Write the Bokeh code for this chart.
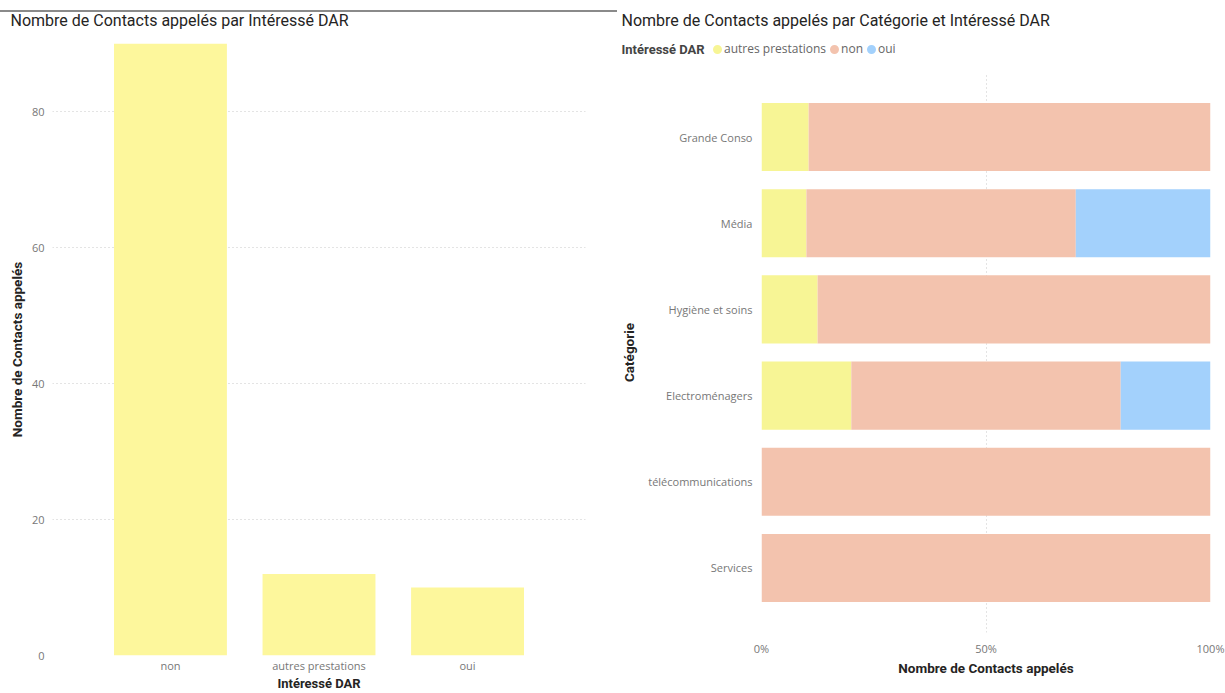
from bokeh.plotting import figure
from bokeh.models import (FactorRange, Range1d, Legend, LegendItem, Label,
                          FixedTicker, PrintfTickFormatter, ColumnDataSource)
from bokeh.embed import file_html
from bokeh.resources import INLINE

# ---- data ----
dar_categories = ["non", "autres prestations", "oui"]
dar_counts = [90, 12, 10]

categories = ["Grande Conso", "Média", "Hygiène et soins", "Electroménagers",
              "télécommunications", "Services"]
series = ["autres prestations", "non", "oui"]
share_autres = [10.5, 10, 12.5, 20, 0, 0]
share_non = [89.5, 60, 87.5, 60, 100, 100]
share_oui = [0, 30, 0, 20, 0, 0]
left_ticks = [0, 20, 40, 60, 80]
pct_ticks = [0, 50, 100]

YELLOW_L = "#FDF79C"
COLORS = ["#F7F595", "#F3C3AE", "#A3D1FC"]
TITLE_FONT = "Roboto"
LABEL_FONT = "Open Sans"
DARK = "#252423"
TICK_COL = "#777777"
GRID_COL = "#C8C8C8"


def style_axis(ax, label_size="13.5px"):
    ax.axis_line_color = None
    ax.major_tick_line_color = None
    ax.minor_tick_line_color = None
    ax.major_tick_out = 0
    ax.major_tick_in = 0
    ax.minor_tick_out = 0
    ax.minor_tick_in = 0
    ax.major_label_text_color = TICK_COL
    ax.major_label_text_font = LABEL_FONT
    ax.major_label_text_font_size = "11px"
    ax.axis_label_text_font = TITLE_FONT
    ax.axis_label_text_font_style = "bold"
    ax.axis_label_text_font_size = label_size
    ax.axis_label_text_color = DARK


# ---- left chart (placed 12px down, with a grey top rule) ----
TOP1 = 12
W1, H1 = 617, 693 - TOP1
L1, R1, T1, B1 = 52, 32, 43 - TOP1, 36
p1 = figure(x_range=FactorRange(*dar_categories, range_padding=0.196),
            y_range=Range1d(0, 90), width=W1, height=H1,
            output_backend="svg", toolbar_location=None,
            min_border_left=L1, min_border_right=R1,
            min_border_top=T1, min_border_bottom=B1)
p1.styles = {"position": "absolute", "left": "0px", "top": f"{TOP1 - 2}px",
             "border-top": "2px solid #8A8A8A"}
p1.vbar(x=dar_categories, top=dar_counts, width=0.76, color=YELLOW_L, line_color=None)
p1.outline_line_color = None
p1.xgrid.grid_line_color = None
p1.ygrid.grid_line_color = GRID_COL
p1.ygrid.grid_line_dash = "1 3"
p1.yaxis.ticker = FixedTicker(ticks=left_ticks)
style_axis(p1.xaxis[0], "13px")
style_axis(p1.yaxis[0])
p1.xaxis.axis_label = "Intéressé DAR"
p1.yaxis.axis_label = "Nombre de Contacts appelés"
p1.xaxis.major_label_standoff = 2
p1.xaxis.axis_label_standoff = 0
p1.yaxis.major_label_standoff = 8
p1.yaxis.axis_label_standoff = 4

# ---- right chart ----
W2, H2 = 608, 693
L2, R2, T2, B2 = 144, 15, 72, 61
src = ColumnDataSource(data={"cat": categories, "autres prestations": share_autres,
                             "non": share_non, "oui": share_oui})
p2 = figure(y_range=FactorRange(*reversed(categories), range_padding=0.083),
            x_range=Range1d(0, 100), width=W2, height=H2,
            output_backend="svg", toolbar_location=None,
            min_border_left=L2, min_border_right=R2,
            min_border_top=T2, min_border_bottom=B2)
p2.styles = {"position": "absolute", "left": f"{W1}px", "top": "0px"}
p2.hbar_stack(series, y="cat", height=0.79, color=COLORS, line_color=None, source=src)
p2.outline_line_color = None
p2.ygrid.grid_line_color = None
p2.xgrid.grid_line_color = GRID_COL
p2.xgrid.grid_line_dash = "1 3"
p2.xaxis.ticker = FixedTicker(ticks=pct_ticks)
p2.xaxis.formatter = PrintfTickFormatter(format="%d%%")
style_axis(p2.xaxis[0])
style_axis(p2.yaxis[0])
p2.xaxis.axis_label = "Nombre de Contacts appelés"
p2.yaxis.axis_label = "Catégorie"
p2.xaxis.major_label_standoff = 8
p2.xaxis.axis_label_standoff = 1
p2.yaxis.major_label_standoff = 9
p2.yaxis.axis_label_standoff = 8

# ---- header strip (titles + legend), transparent, drawn on top ----
HH = 72
ph = figure(width=1225, height=HH, x_range=Range1d(0, 1), y_range=Range1d(0, 1),
            output_backend="svg", toolbar_location=None,
            x_axis_location=None, y_axis_location=None,
            min_border=0, min_border_left=0, min_border_right=0,
            min_border_top=0, min_border_bottom=0)
ph.styles = {"position": "absolute", "left": "0px", "top": "0px"}
ph.outline_line_color = None
ph.grid.visible = False
ph.background_fill_alpha = 0
ph.border_fill_alpha = 0

ph.add_layout(Label(x=10, y=HH - 20, x_units="screen", y_units="screen",
                    text="Nombre de Contacts appelés par Intéressé DAR",
                    text_font=TITLE_FONT, text_font_size="16px", text_color=DARK,
                    text_baseline="middle"))
ph.add_layout(Label(x=621, y=HH - 20, x_units="screen", y_units="screen",
                    text="Nombre de Contacts appelés par Catégorie et Intéressé DAR",
                    text_font=TITLE_FONT, text_font_size="16px", text_color=DARK,
                    text_baseline="middle"))
ph.add_layout(Label(x=621, y=HH - 49, x_units="screen", y_units="screen",
                    text="Intéressé DAR",
                    text_font=TITLE_FONT, text_font_size="13px", text_font_style="bold",
                    text_color="#444444", text_baseline="middle"))

# legend proxies: one NaN point each (nothing is drawn in the strip)
items = []
for name, col in zip(series, COLORS):
    r = ph.scatter(x=[float("nan")], y=[float("nan")], marker="circle", size=9,
                   fill_color=col, line_color=col, line_width=5)
    items.append(LegendItem(label=name, renderers=[r]))
legend = Legend(items=items, orientation="horizontal",
                location=(712, HH - 49 - 8),
                margin=0, padding=0, spacing=3, label_standoff=2,
                glyph_width=10, glyph_height=16, label_height=16,
                label_text_font=LABEL_FONT, label_text_font_size="12px",
                label_text_color="#666666", border_line_color=None,
                background_fill_alpha=0)
ph.add_layout(legend, "center")

open("out.html", "w").write(file_html([p1, p2, ph], INLINE))
